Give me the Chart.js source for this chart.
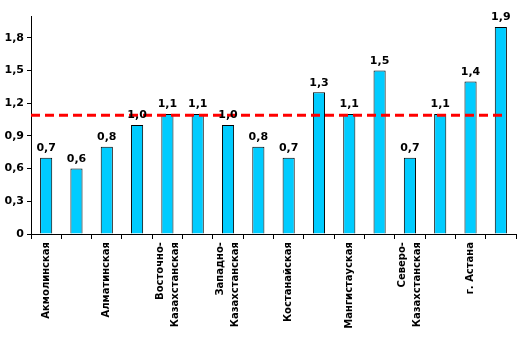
<!DOCTYPE html>
<html><head><meta charset="utf-8">
<script src="https://cdn.jsdelivr.net/npm/chart.js@4"></script>
<style>html,body{margin:0;padding:0;background:#fff}#wrap{width:523px;height:351px}</style>
</head><body><div id="wrap"><canvas id="c" width="523" height="351"></canvas></div>
<script>
const categories = ["Акмолинская","Актюбинская","Алматинская","Атырауская","Восточно-Казахстанская","Жамбылская","Западно-Казахстанская","Карагандинская","Костанайская","Кызылординская","Мангистауская","Павлодарская","Северо-Казахстанская","Южно-Казахстанская","г. Астана","г. Алматы"];
const values = [0.7,0.6,0.8,1.0,1.1,1.1,1.0,0.8,0.7,1.3,1.1,1.5,0.7,1.1,1.4,1.9];
const averageValue = 1.09;
const yTicks = [0,0.3,0.6,0.9,1.2,1.5,1.8];

const fmt = v => v === 0 ? "0" : v.toFixed(1).replace(".", ",");
const FONT = "'DejaVu Sans', Verdana, sans-serif";
const LABEL_LH = 15;

const valueLabels = {
  id: 'valueLabels',
  afterDatasetsDraw(chart) {
    const ctx = chart.ctx;
    const meta = chart.getDatasetMeta(0);
    ctx.save();
    ctx.font = "bold 11px " + FONT;
    ctx.fillStyle = "#000";
    ctx.textAlign = "center";
    ctx.textBaseline = "bottom";
    meta.data.forEach((bar, i) => {
      ctx.fillText(fmt(values[i]), bar.x, bar.y - 4);
    });
    ctx.restore();
  }
};

const averageLinePlugin = {
  id: 'averageLine',
  afterDatasetsDraw(chart) {
    const ctx = chart.ctx;
    const y = chart.scales.y.getPixelForValue(averageValue);
    const bars = chart.getDatasetMeta(0).data;
    const last = bars[bars.length - 1];
    const x0 = chart.chartArea.left;
    const x1 = last.x + last.width / 2;
    ctx.save();
    ctx.strokeStyle = '#FF0000';
    ctx.lineWidth = 3;
    ctx.setLineDash([9, 5]);
    ctx.beginPath();
    ctx.moveTo(x0, y);
    ctx.lineTo(x1, y);
    ctx.stroke();
    ctx.restore();
  }
};

new Chart(document.getElementById('c'), {
  type: 'bar',
  data: {
    labels: categories,
    datasets: [
      { data: values, backgroundColor: '#00CCFF', borderColor: '#000', borderWidth: 1,
        barPercentage: 0.4, categoryPercentage: 1.0 }
    ]
  },
  options: {
    responsive: false, animation: false,
    layout: { padding: { top: 16, right: 7, left: 0, bottom: 0 } },
    plugins: { legend: { display: false }, tooltip: { enabled: false } },
    scales: {
      x: {
        offset: true,
        grid: { display: true, drawOnChartArea: false, drawTicks: true, tickLength: 5, color: '#000', offset: true },
        border: { display: true, color: '#000', width: 1 },
        ticks: {
          autoSkip: false, maxRotation: 90, minRotation: 90, padding: 3,
          color: '#000', font: { family: FONT, size: 10, weight: 'bold', lineHeight: LABEL_LH / 10 },
          callback: function(v, i) {
            if (i % 2 !== 0) return '';
            const s = categories[i];
            const k = s.indexOf('-');
            return k > 0 ? [s.slice(0, k + 1), s.slice(k + 1)] : s;
          }
        },
        afterFit(scale) { scale.height = 117; },
        afterUpdate(scale) {
          if (scale._centerWrapped) return;
          const orig = scale._computeLabelItems.bind(scale);
          scale._computeLabelItems = function(ca) {
            const items = orig(ca);
            items.forEach(it => {
              if (Array.isArray(it.label) && it.label.length > 1) {
                it.textOffset -= (it.label.length - 1) * LABEL_LH / 2;
              }
            });
            return items;
          };
          scale._centerWrapped = true;
        }
      },
      y: {
        min: 0, max: 2.0,
        grid: { display: true, drawOnChartArea: false, drawTicks: true, tickLength: 4, color: '#000' },
        border: { display: true, color: '#000', width: 1 },
        afterBuildTicks(scale) { scale.ticks = yTicks.map(v => ({ value: v })); },
        ticks: { color: '#000', padding: 3, font: { family: FONT, size: 11, weight: 'bold' },
          callback: v => fmt(v) },
        afterFit(scale) { scale.width = 31; }
      }
    }
  },
  plugins: [averageLinePlugin, valueLabels]
});
</script></body></html>
